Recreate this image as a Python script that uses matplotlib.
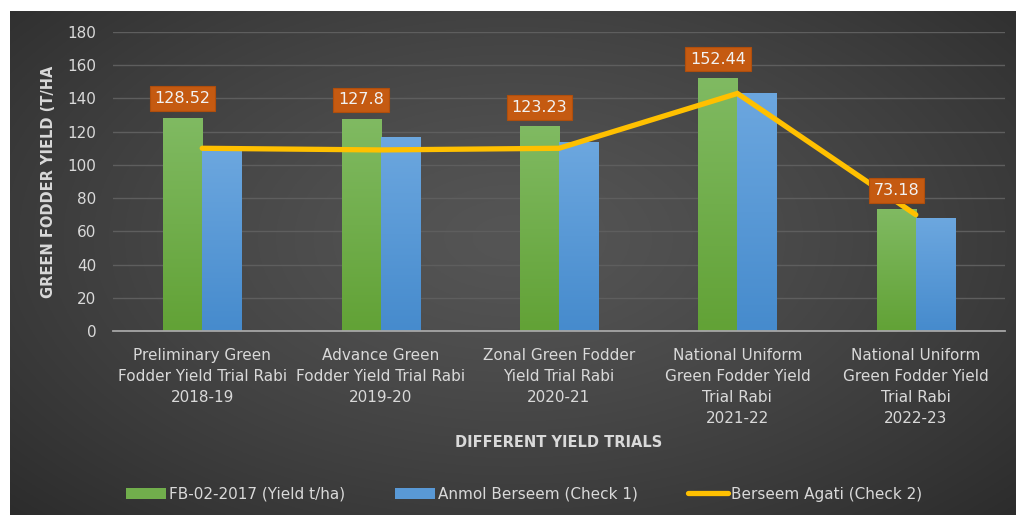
import numpy as np
import matplotlib
matplotlib.use("Agg")
import matplotlib.pyplot as plt
from matplotlib.patches import Patch
from matplotlib.lines import Line2D

# ---------------- data ----------------
categories = [
    "Preliminary Green\nFodder Yield Trial Rabi\n2018-19",
    "Advance Green\nFodder Yield Trial Rabi\n2019-20",
    "Zonal Green Fodder\nYield Trial Rabi\n2020-21",
    "National Uniform\nGreen Fodder Yield\nTrial Rabi\n2021-22",
    "National Uniform\nGreen Fodder Yield\nTrial Rabi\n2022-23",
]
fb_yield = [128.52, 127.8, 123.23, 152.44, 73.18]
anmol_check1 = [109.5, 116.5, 114.0, 143.5, 68.0]
agati_check2 = [110.0, 109.0, 110.0, 143.0, 70.0]
fb_labels = ["128.52", "127.8", "123.23", "152.44", "73.18"]
series_names = ["FB-02-2017 (Yield t/ha)", "Anmol Berseem (Check 1)", "Berseem Agati (Check 2)"]
yticks = [0, 20, 40, 60, 80, 100, 120, 140, 160, 180]

# ---------------- style ----------------
plt.rcParams['font.family'] = ['DejaVu Sans']
TXT = "#D9D9D9"
GREEN_TOP, GREEN_BOT = np.array([0x80, 0xBA, 0x62]) / 255, np.array([0x62, 0xA2, 0x36]) / 255
BLUE_TOP, BLUE_BOT = np.array([0x6C, 0xA7, 0xDF]) / 255, np.array([0x46, 0x8B, 0xCD]) / 255
ORANGE = "#C55A11"
GOLD = "#FFC000"

W, H = 1016, 515
fig = plt.figure(figsize=(W / 100, H / 100), dpi=100)
fig.patch.set_facecolor("white")

# background chart area with radial gradient
bg = fig.add_axes([10 / W, 0, 1 - 10 / W, 1 - 11 / H])
bg.set_axis_off()
yy, xx = np.mgrid[0:1:300j, 0:1:600j]
r = np.sqrt(((xx - 0.5) / 0.75) ** 2 + ((yy - 0.55) / 0.85) ** 2)
r = np.clip(r, 0, 1)
c_in, c_out = 0x55 / 255, 0x28 / 255
val = c_in + (c_out - c_in) * r ** 1.3
img = np.dstack([val, val, val])
bg.imshow(img, extent=[0, 1, 0, 1], aspect="auto", origin="lower")
bg.set_xlim(0, 1)
bg.set_ylim(0, 1)

# main axes
ax = fig.add_axes([113 / W, 1 - 331 / H, (1005 - 113) / W, (331 - 32) / H])
ax.patch.set_alpha(0)
x = np.arange(len(categories))
bw = 0.219

ax.set_yticks(yticks)
ax.yaxis.grid(True, color="#5E5E5E", linewidth=1.0)
ax.set_axisbelow(True)
for s in ["top", "right", "left"]:
    ax.spines[s].set_visible(False)
ax.spines["bottom"].set_color("#A6A6A6")
ax.spines["bottom"].set_linewidth(1.3)
ax.spines["bottom"].set_zorder(5)

def grad_bars(xpos, vals, top, bot):
    bars = ax.bar(xpos, vals, bw, color=bot, zorder=2, linewidth=0)
    grad = np.linspace(0, 1, 100)[:, None]
    g = bot[None, None, :] * (1 - grad[..., None]) + top[None, None, :] * grad[..., None]
    for b in bars:
        x0 = b.get_x()
        im = ax.imshow(g, extent=[x0, x0 + b.get_width(), 0, b.get_height()],
                       origin="lower", aspect="auto", zorder=2.1)
        im.set_clip_path(b)
    return bars

grad_bars(x - bw / 2, fb_yield, GREEN_TOP, GREEN_BOT)
grad_bars(x + bw / 2, anmol_check1, BLUE_TOP, BLUE_BOT)
ax.set_xlim(-0.5, len(categories) - 0.5)
ax.set_ylim(0, 180)

ax.plot(x, agati_check2, color=GOLD, linewidth=3.8, zorder=4, solid_capstyle="round",
        solid_joinstyle="miter")

for xi, v, lab in zip(x, fb_yield, fb_labels):
    ax.annotate(lab, (xi - bw / 2, v), xytext=(0, 13.5), textcoords="offset points",
                ha="center", va="center", color="#F2F2F2", fontsize=11.5, zorder=6,
                bbox=dict(boxstyle="square,pad=0.3", fc=ORANGE, ec="#B04E0C", lw=0.8))

ax.set_xticks(x)
ax.set_xticklabels(categories, color=TXT, fontsize=11, linespacing=1.5)
ax.tick_params(axis="x", length=0, pad=12)
ax.tick_params(axis="y", length=0, pad=12, labelcolor=TXT, labelsize=11)

ax.set_xlabel("DIFFERENT YIELD TRIALS", color=TXT, fontsize=10.5, fontweight="bold", labelpad=7)
ax.set_ylabel("GREEN FODDER YIELD (T/HA", color=TXT, fontsize=10.5, fontweight="bold", labelpad=8)

handles = [Patch(facecolor=(GREEN_TOP + GREEN_BOT) / 2, edgecolor="none"),
           Patch(facecolor=(BLUE_TOP + BLUE_BOT) / 2, edgecolor="none"),
           Line2D([0], [0], color=GOLD, linewidth=3.8, solid_capstyle="round")]
leg = fig.legend(handles, series_names, loc="center", bbox_to_anchor=(524 / W, 1 - 494 / H),
                 ncol=3, frameon=False, fontsize=11, handlelength=2.6, handleheight=0.7,
                 handletextpad=0.2, columnspacing=3.3)
for t in leg.get_texts():
    t.set_color(TXT)

fig.savefig("out.png", dpi=100, facecolor=fig.get_facecolor())
